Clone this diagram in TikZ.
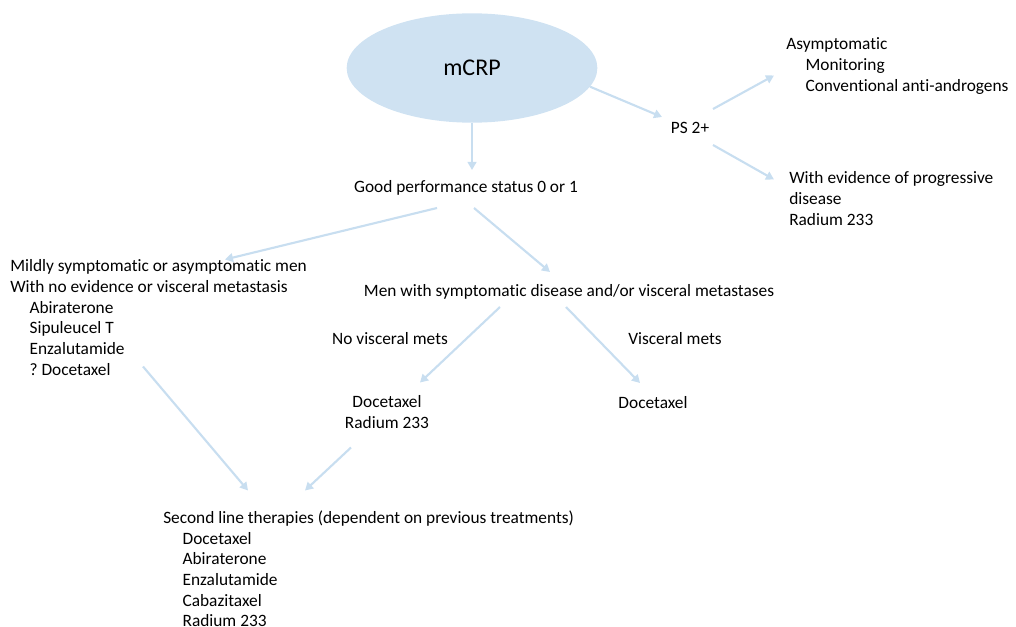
\documentclass[tikz,border=0pt]{standalone}
\usepackage{fontspec}
\setmainfont[Ligatures=NoCommon]{Carlito}
\usepackage{xcolor}
\usepackage{tikz}
\usetikzlibrary{shapes,arrows.meta,positioning,calc}
\tikzset{
  font={\fontsize{13pt}{15.5pt}\selectfont\frenchspacing}
}
\definecolor{colorE}{RGB}{207,226,242}
\definecolor{colorA}{RGB}{200,222,240}
\tikzstyle{line}=[draw=colorA, -{Triangle[length=6pt,width=6.5pt]}, line width=1.6pt]
\tikzstyle{ell}=[ellipse,fill=colorE,minimum width=188pt,minimum height=82pt,inner sep=0,font={\fontsize{18pt}{21pt}\selectfont}]
\tikzstyle{txt}=[inner sep=0,anchor=base]
\tikzstyle{blk}=[inner sep=0,anchor=north west,align=left]
\newcommand{\indt}{\hspace*{14.5pt}}

\begin{document}
\begin{tikzpicture}[x=0.75pt,y=-0.75pt]
\useasboundingbox (0,0) rectangle (1016,627);

\node[ell] (mcrp) at (472,68) {mCRP};
\node[txt] (good) at (466,192.5) {Good performance status 0 or 1};
\node[txt] (ps) at (690,133.5) {PS 2+};
\node[blk] (asym) at (786,37.5) {Asymptomatic\\\indt Monitoring\\\indt Conventional anti-androgens};
\node[blk] (prog) at (789,171.5) {With evidence of progressive\\disease\\Radium 233};
\node[blk] (mild) at (10,259.5) {Mildly symptomatic or asymptomatic men\\With no evidence or visceral metastasis\\\indt Abiraterone\\\indt Sipuleucel T\\\indt Enzalutamide\\\indt ? Docetaxel};
\node[txt] (men) at (569,296.5) {Men with symptomatic disease and/or visceral metastases};
\node[txt] (novis) at (390,344.5) {No visceral mets};
\node[txt] (vis) at (675,344.5) {Visceral mets};
\node[inner sep=0,anchor=north,align=center] (docrad) at (387,395.5) {Docetaxel\\Radium 233};
\node[txt] (doc) at (653,408.5) {Docetaxel};
\node[blk] (second) at (163,510.5) {Second line therapies (dependent on previous treatments)\\\indt Docetaxel\\\indt Abiraterone\\\indt Enzalutamide\\\indt Cabazitaxel\\\indt Radium 233};

\draw[line] (mcrp.south) -- ($(good.base)+(6,-22.5)$);
\draw[line] (mcrp.-9) -- ($(ps.base)+(-28,-16.5)$);
\draw[line] ($(ps.base)+(23,-24.5)$) -- ($(asym.north west)+(-12,38)$);
\draw[line] ($(ps.base)+(23,11.5)$) -- ($(prog.north west)+(-15,8)$);
\draw[line] ($(good.base)+(-29,15.5)$) -- ($(mild.north west)+(215,0)$);
\draw[line] ($(good.base)+(8,15.5)$) -- ($(men.base)+(-19,-24.5)$);
\draw[line] ($(men.base)+(-69,10.5)$) -- ($(docrad.north)+(33,-13)$);
\draw[line] ($(men.base)+(-3,10.5)$) -- ($(doc.base)+(-13,-25.5)$);
\draw[line] ($(mild.north west)+(133,107)$) -- ($(second.north west)+(85,-20)$);
\draw[line] ($(docrad.north)+(-36,52)$) -- ($(second.north west)+(142,-20)$);

\end{tikzpicture}
\end{document}
